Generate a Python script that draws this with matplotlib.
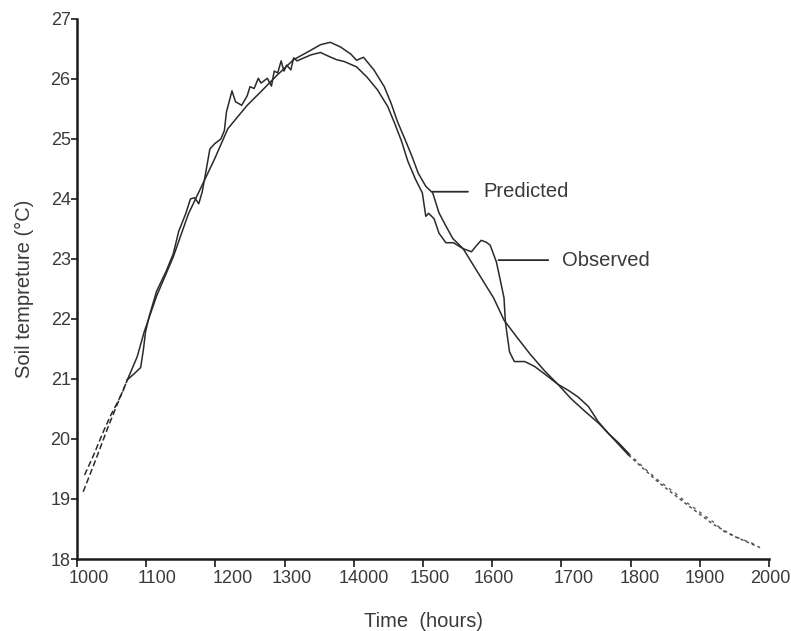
import matplotlib
matplotlib.use("Agg")
import matplotlib.pyplot as plt
from matplotlib.transforms import ScaledTranslation

plt.rcParams['font.family'] = ['Liberation Sans', 'DejaVu Sans']

# ---- data ----
pred_hours = [1009, 1027, 1045, 1059, 1073, 1087, 1097, 1115, 1139, 1161, 1185, 1199,
              1218, 1246, 1266, 1289, 1313, 1332, 1352, 1366, 1381, 1396, 1404, 1414,
              1429, 1444, 1454, 1463, 1474, 1484, 1493, 1504, 1514, 1523, 1533, 1543,
              1558, 1573, 1588, 1602, 1617, 1636, 1655, 1676, 1695, 1714, 1735, 1754,
              1768, 1797, 1841, 1881, 1919, 1951, 1987]
pred_temp = [19.12, 19.65, 20.20, 20.60, 20.99, 21.37, 21.78, 22.38, 23.03, 23.75, 24.33, 24.67,
             25.17, 25.56, 25.79, 26.06, 26.32, 26.44, 26.57, 26.61, 26.53, 26.41, 26.31, 26.36,
             26.15, 25.87, 25.59, 25.29, 24.99, 24.71, 24.43, 24.21, 24.10, 23.77, 23.55, 23.34,
             23.17, 22.89, 22.61, 22.35, 21.98, 21.69, 21.41, 21.13, 20.91, 20.67, 20.45, 20.26,
             20.09, 19.73, 19.27, 18.91, 18.58, 18.37, 18.19]

obs_hours = [1011, 1024, 1038, 1049, 1059, 1066, 1073, 1083, 1092, 1096, 1099, 1104,
             1115, 1129, 1139, 1147, 1157, 1164, 1170, 1176, 1181, 1185, 1192, 1199,
             1208, 1213, 1216, 1224, 1229, 1238, 1246, 1250, 1256, 1262, 1266, 1275,
             1281, 1285, 1290, 1295, 1299, 1303, 1309, 1313, 1318, 1328, 1338, 1352,
             1361, 1375, 1386, 1396, 1404, 1419, 1434, 1449, 1459, 1469, 1478, 1489,
             1499, 1504, 1508, 1516, 1523, 1533, 1544, 1558, 1570, 1577, 1584, 1591,
             1597, 1606, 1611, 1617, 1619, 1625, 1632, 1647, 1661, 1676, 1695, 1710,
             1724, 1739, 1753, 1768, 1783, 1797, 1819, 1841, 1863, 1881, 1900, 1919,
             1936, 1958, 1980]
obs_temp = [19.40, 19.73, 20.12, 20.40, 20.62, 20.79, 20.99, 21.09, 21.19, 21.49, 21.78, 22.03,
            22.46, 22.80, 23.08, 23.46, 23.75, 24.00, 24.02, 23.92, 24.12, 24.37, 24.83, 24.92,
            25.00, 25.14, 25.45, 25.80, 25.62, 25.56, 25.72, 25.87, 25.84, 26.01, 25.93, 26.01,
            25.88, 26.13, 26.10, 26.30, 26.13, 26.23, 26.15, 26.35, 26.30, 26.35, 26.40, 26.44,
            26.39, 26.32, 26.29, 26.24, 26.20, 26.03, 25.82, 25.54, 25.26, 24.96, 24.63, 24.33,
            24.10, 23.71, 23.76, 23.67, 23.43, 23.27, 23.27, 23.17, 23.12, 23.22, 23.31, 23.28,
            23.23, 22.95, 22.68, 22.35, 21.95, 21.45, 21.29, 21.29, 21.21, 21.08, 20.91, 20.81,
            20.70, 20.54, 20.29, 20.09, 19.93, 19.76, 19.52, 19.30, 19.11, 18.94, 18.78, 18.62,
            18.45, 18.34, 18.24]

x_ticks = [1000, 1100, 1200, 1300, 1400, 1500, 1600, 1700, 1800, 1900, 2000]
x_tick_labels = ['1000', '1100', '1200', '1300', '14000', '1500', '1600', '1700',
                 '1800', '1900', '2000']
y_ticks = [18, 19, 20, 21, 22, 23, 24, 25, 26, 27]
y_tick_labels = ['18', '19', '20', '21', '22', '23', '24', '25', '26', '27']

# hand-placement of the printed x labels (pixel shift to the right)
x_label_shift_px = [12, 11, 17, 7, 10, 7, 2, 12, 9, 5, 1]

# ---- figure ----
fig = plt.figure(figsize=(7.91, 6.31), dpi=100)
ax = fig.add_axes([0.0973, 0.1141, 0.875, 0.856])

line_color = '#2a2a2a'
txt_color = '#3a3a3a'


def seg(hours, temps, lo, hi):
    h = [a for a in hours if lo <= a <= hi]
    t = [b for a, b in zip(hours, temps) if lo <= a <= hi]
    return h, t


h, t = seg(pred_hours, pred_temp, 1000, 1075)
ax.plot(h, t, color=line_color, lw=1.1, ls=(0, (4, 2)))
h, t = seg(pred_hours, pred_temp, 1073, 1800)
ax.plot(h, t, color=line_color, lw=1.1)
h, t = seg(pred_hours, pred_temp, 1797, 2000)
ax.plot(h, t, color=line_color, lw=1.1, ls=(0, (2, 2)), alpha=0.8)

h, t = seg(obs_hours, obs_temp, 1000, 1075)
ax.plot(h, t, color=line_color, lw=1.1, ls=(0, (4, 2)))
h, t = seg(obs_hours, obs_temp, 1073, 1800)
ax.plot(h, t, color=line_color, lw=1.1)
h, t = seg(obs_hours, obs_temp, 1797, 2000)
ax.plot(h, t, color=line_color, lw=1.1, ls=(0, (2, 3)), alpha=0.7)

# annotations
ax.annotate('Predicted', xy=(1514, 24.12), xytext=(1587, 24.12),
            fontsize=14.5, color=txt_color, va='center', ha='left',
            arrowprops=dict(arrowstyle='-', color=line_color, lw=1.3,
                            shrinkA=9, shrinkB=0, relpos=(0, 0.5)),
            annotation_clip=False)
ax.annotate('Observed', xy=(1609, 22.98), xytext=(1701, 22.98),
            fontsize=14.5, color=txt_color, va='center', ha='left',
            arrowprops=dict(arrowstyle='-', color=line_color, lw=1.3,
                            shrinkA=8, shrinkB=0, relpos=(0, 0.5)),
            annotation_clip=False)

ax.set_xlim(1000, 2000)
ax.set_ylim(18, 27)
ax.set_xticks(x_ticks)
ax.set_xticklabels(x_tick_labels)
ax.set_yticks(y_ticks)
ax.set_yticklabels(y_tick_labels)

for s in ['top', 'right']:
    ax.spines[s].set_visible(False)
for s in ['left', 'bottom']:
    ax.spines[s].set_linewidth(1.8)
    ax.spines[s].set_color('#1a1a1a')

ax.tick_params(axis='x', direction='out', length=6, width=1.2, colors='#1a1a1a',
               labelcolor=txt_color, labelsize=13, pad=2)
ax.tick_params(axis='y', direction='out', length=4, width=1.2, colors='#1a1a1a',
               labelcolor=txt_color, labelsize=13, pad=0.5)

for lab, dx in zip(ax.get_xticklabels(), x_label_shift_px):
    lab.set_transform(lab.get_transform() + ScaledTranslation(dx / 100.0, 0, fig.dpi_scale_trans))

ax.set_xlabel('Time  (hours)', fontsize=14.5, color=txt_color, labelpad=18)
ax.set_ylabel('Soil tempreture (°C)', fontsize=14.5, color=txt_color, labelpad=12)

fig.savefig('out.png', dpi=100)
